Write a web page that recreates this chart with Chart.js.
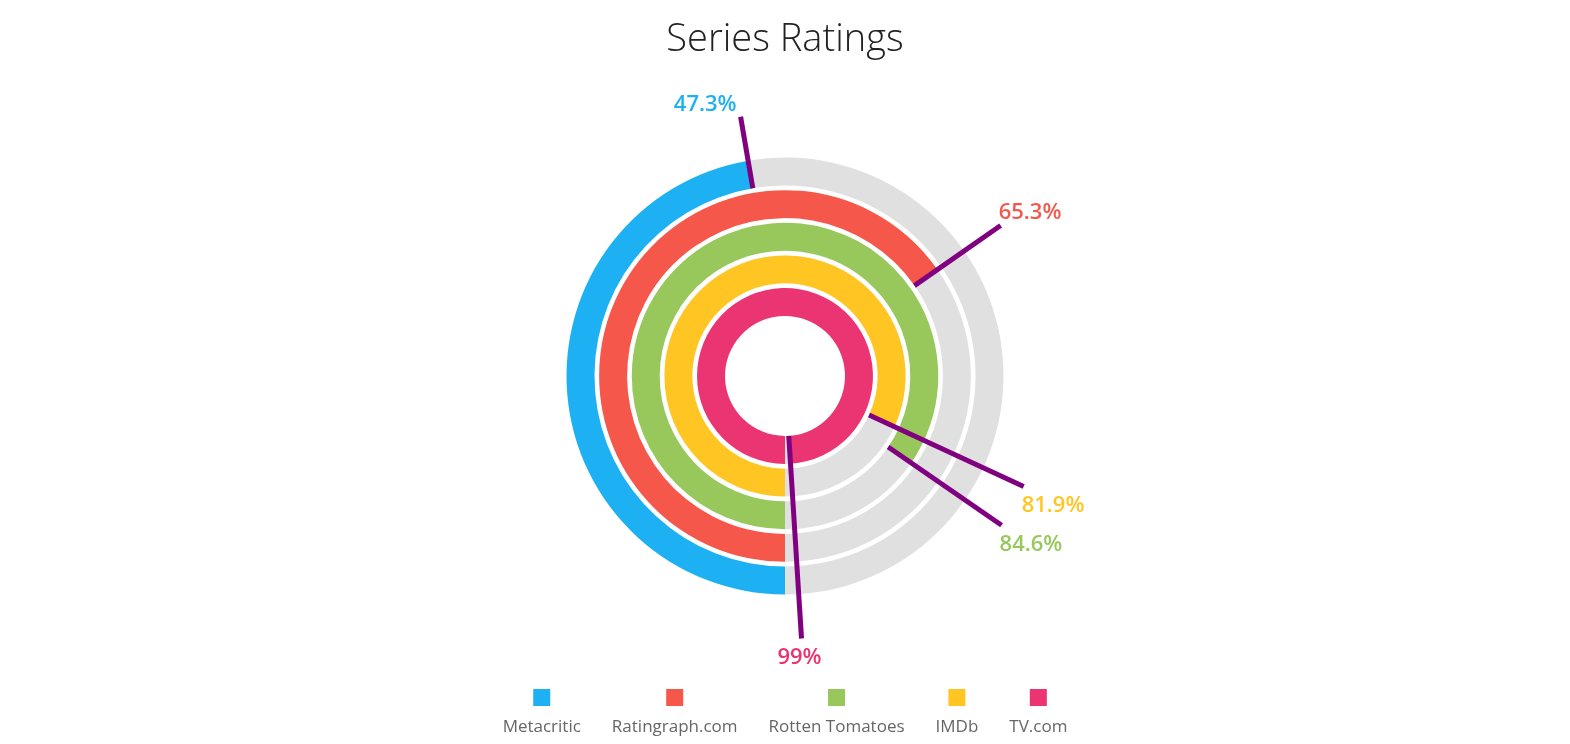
<!DOCTYPE html>
<html>
<head>
<meta charset="utf-8">
<title>Series Ratings</title>
<script src="https://cdn.jsdelivr.net/npm/chart.js@4.4.1/dist/chart.umd.min.js"></script>
<style>
  html, body { margin: 0; padding: 0; background: #fff; }
  #wrap { width: 1570px; height: 744px; }
</style>
</head>
<body>
<div id="wrap"><canvas id="chartRatings"></canvas></div>
<script>
const sources = ["Metacritic", "Ratingraph.com", "Rotten Tomatoes", "IMDb", "TV.com"];
const ratings = [47.3, 65.3, 84.6, 81.9, 99];
const colors = ["#1DB1F3", "#F5574B", "#98C85C", "#FFC623", "#EB3472"];
const trackColor = "#E0E0E0";
const leaderColor = "#800080";

// one ring per source, with a thin transparent ring between them as a gap
let datasets = [];
sources.forEach((name, i) => {
    if (i > 0) {
        datasets.push({
            label: "gap",
            data: [1],
            backgroundColor: ["rgba(0,0,0,0)"],
            weight: 1,
            isGap: true,
        });
    }
    datasets.push({
        label: name,
        data: [ratings[i], 100 - ratings[i]],
        backgroundColor: [colors[i], trackColor],
        weight: 6,
    });
});

// leader lines and value labels at the end of each ring
const leaderLines = {
    id: "leaderLines",
    afterDatasetsDraw(chart) {
        const ctx = chart.ctx;
        ctx.save();
        chart.data.datasets.forEach((ds, i) => {
            if (ds.isGap) return;
            const arc = chart.getDatasetMeta(i).data[0];
            const a = arc.endAngle;
            const cos = Math.cos(a), sin = Math.sin(a);
            const r0 = arc.innerRadius;
            const r1 = 263;
            const ex = arc.x + cos * r1, ey = arc.y + sin * r1;
            ctx.beginPath();
            ctx.moveTo(arc.x + cos * r0, arc.y + sin * r0);
            ctx.lineTo(ex, ey);
            ctx.strokeStyle = leaderColor;
            ctx.lineWidth = 5;
            ctx.lineCap = "butt";
            ctx.stroke();

            ctx.font = "600 22px 'Open Sans'";
            ctx.fillStyle = ds.backgroundColor[0];
            ctx.textBaseline = "alphabetic";
            let tx = ex;
            if (Math.abs(cos) < 0.15) {
                ctx.textAlign = "center";
                tx = ex - 2;
            } else if (cos > 0) {
                ctx.textAlign = "left";
                tx = ex - 2;
            } else {
                ctx.textAlign = "right";
                tx = ex - 4;
            }
            const ty = sin < 0 ? ey - 6 : ey + 26;
            ctx.fillText(ds.data[0] + "%", tx, ty);
        });
        ctx.restore();
    },
};

// legend with the colour box above its label
const boxLegend = {
    id: "boxLegend",
    afterDraw(chart) {
        const ctx = chart.ctx;
        const items = chart.data.datasets.filter((ds) => !ds.isGap);
        const gap = 31;
        ctx.save();
        ctx.font = "17px 'Open Sans'";
        const widths = items.map((ds) => ctx.measureText(ds.label).width);
        const total = widths.reduce((s, w) => s + w, 0) + gap * (items.length - 1);
        let x = chart.width / 2 - total / 2;
        items.forEach((ds, i) => {
            const cx = x + widths[i] / 2;
            ctx.fillStyle = ds.backgroundColor[0];
            ctx.fillRect(cx - 8.5, 689, 17, 17);
            ctx.fillStyle = "#666";
            ctx.textAlign = "center";
            ctx.textBaseline = "alphabetic";
            ctx.fillText(ds.label, cx, 732);
            x += widths[i] + gap;
        });
        ctx.restore();
    },
};

const configRatings = {
    type: "doughnut",
    data: {
        labels: ["Rating", "Rest"],
        datasets: datasets,
    },
    options: {
        responsive: true,
        maintainAspectRatio: false,
        animation: false,
        events: [],
        rotation: 180,
        radius: 218.5,
        cutout: "27.46%",
        borderWidth: 0,
        layout: {
            padding: { top: 0, bottom: 64.6 },
        },
        plugins: {
            legend: { display: false },
            tooltip: { enabled: false },
            title: {
                display: true,
                text: "Series Ratings",
                color: "#222",
                font: { family: "'Open Sans'", size: 38, weight: "300" },
                padding: { top: 17, bottom: 10 },
            },
        },
    },
    plugins: [leaderLines, boxLegend],
};

const chartRatings = new Chart(document.getElementById("chartRatings"), configRatings);
</script>
</body>
</html>
